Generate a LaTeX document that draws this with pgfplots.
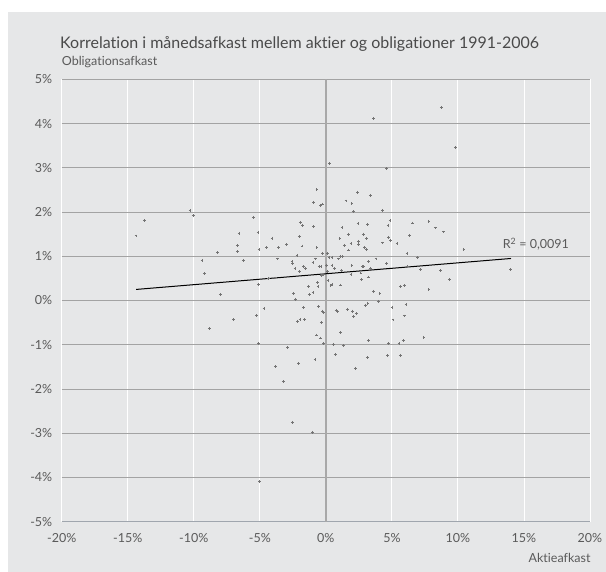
\documentclass[border=0pt]{standalone}
\usepackage{pgfplots}
\pgfplotsset{compat=1.18}
\usepackage{fontspec}
\setmainfont{Lato}[Ligatures=NoCommon]
\definecolor{bg}{HTML}{E6E7E8}
\definecolor{hgrid}{HTML}{A3A3A3}
\definecolor{zline}{HTML}{A8A8A8}
\definecolor{bline}{HTML}{A0A6AE}
\definecolor{txt}{HTML}{5A5A5A}
\definecolor{ttl}{HTML}{4A4A4A}
\definecolor{pts}{HTML}{747474}
\pgfplotstableread{
X Y
-14.37 1.46
-13.74 1.80
-10.28 2.03
-10.03 1.92
-9.37 0.91
-9.20 0.61
-8.82 -0.64
-8.21 1.08
-7.99 0.13
-6.97 -0.43
-6.70 1.25
-6.67 1.10
-6.57 1.52
-6.25 0.91
-5.49 1.88
-5.23 -0.34
-5.13 1.54
-5.06 1.15
-5.08 0.36
-5.08 -0.97
-5.00 -4.10
-4.68 -0.19
-4.50 1.20
-4.32 0.50
-4.07 1.41
-3.82 0.51
-3.79 -1.49
-3.64 0.94
-3.57 1.19
-3.22 -1.83
-2.96 1.26
-2.91 -1.07
-2.56 0.88
-2.51 0.84
-2.54 -2.75
-2.46 0.16
-2.33 0.73
-2.31 0.03
-2.18 1.02
-2.13 -0.47
-2.05 -1.43
-2.01 1.44
-2.01 0.65
-1.95 -0.43
-1.93 1.77
-1.80 1.23
-1.75 1.70
-1.67 0.76
-1.67 -0.16
-1.60 -0.43
-1.52 0.73
-1.32 0.31
-1.25 0.13
-1.02 -2.98
-0.97 0.86
-0.97 0.18
-0.92 2.22
-0.92 1.68
-0.82 -1.34
-0.79 0.94
-0.69 -0.78
-0.67 2.50
-0.67 1.20
-0.61 0.40
-0.59 0.31
-0.54 -0.14
-0.51 0.76
-0.42 -0.85
-0.39 2.15
-0.36 0.76
-0.34 0.56
-0.34 -0.50
-0.26 2.18
-0.26 1.07
-0.23 -0.24
-0.19 0.58
-0.19 -0.27
-0.16 -0.98
0.04 0.80
0.11 1.07
0.14 0.65
0.17 0.45
0.24 0.97
0.29 3.09
0.39 0.33
0.47 0.36
0.47 0.97
0.47 0.80
0.60 -0.99
0.67 0.73
0.72 -1.22
0.77 -0.23
0.87 -0.25
0.98 0.94
1.07 1.40
1.10 0.35
1.13 1.00
1.13 -0.73
1.17 0.68
1.23 1.65
1.28 0.99
1.32 -1.02
1.43 1.25
1.53 2.25
1.63 -0.20
1.70 1.50
1.70 1.14
1.91 1.28
1.91 0.59
1.98 2.19
1.98 0.79
2.01 -0.24
2.08 2.01
2.11 -0.37
2.26 -1.53
2.34 -0.30
2.39 2.45
2.44 1.74
2.46 1.34
2.49 1.27
2.66 0.62
2.69 0.47
2.76 0.77
2.84 1.50
2.87 0.76
2.94 1.19
3.02 -0.11
3.10 1.40
3.10 1.16
3.14 -1.29
3.17 1.71
3.19 -0.06
3.22 0.53
3.22 -0.91
3.25 0.88
3.37 2.38
3.40 0.73
3.62 4.12
3.62 0.21
3.80 0.94
3.97 -0.02
4.10 0.16
4.28 2.04
4.31 1.30
4.61 2.98
4.61 0.84
4.69 -1.25
4.71 1.70
4.76 1.43
4.76 -0.98
4.86 1.80
4.88 1.36
5.01 -0.15
5.09 -0.44
5.39 1.28
5.54 -0.98
5.64 0.32
5.64 -1.24
5.87 -0.91
5.94 0.33
5.94 -0.35
6.07 -0.09
6.15 1.07
6.20 0.76
6.35 1.47
6.58 1.75
6.96 0.97
7.15 0.70
7.43 -0.83
7.81 1.79
7.81 0.25
8.29 1.64
8.70 0.68
8.74 4.36
8.92 1.55
9.35 0.47
9.83 3.45
10.46 1.16
14.00 0.70
}\pts
\begin{document}
\begin{tikzpicture}[x=1pt,y=1pt]
\fill[white] (-61.7,-50.3) rectangle (544.3,521.7);
\fill[bg] (-53.2,-50.3) rectangle (544.3,509.3);
\begin{axis}[at={(0,0)}, anchor=south west, scale only axis,
  width=528.3pt, height=442.4pt,
  xmin=-20, xmax=20, ymin=-5, ymax=5,
  axis line style={draw=none}, major tick length=0pt,
  xtick={-20,-15,...,20},
  xticklabels={-20\%,-15\%,-10\%,-5\%,0\%,5\%,10\%,15\%,20\%},
  ytick={-5,-4,...,5},
  yticklabels={-5\%,-4\%,-3\%,-2\%,-1\%,0\%,1\%,2\%,3\%,4\%,5\%},
  xmajorgrids, ymajorgrids,
  x grid style={white, line width=0.9pt},
  y grid style={hgrid, line width=0.9pt},
  tick label style={font=\fontsize{12.5}{14}\selectfont, text=txt},
  xticklabel style={anchor=center, yshift=-16.5pt},
  yticklabel style={anchor=east, xshift=-6pt},
  clip=false]
\addplot[bline, line width=1.2pt] coordinates {(-20,-5) (20,-5)};
\addplot[zline, line width=2.2pt] coordinates {(0,-5) (0,5)};
\addplot[only marks, mark=+, mark size=1.4pt, pts, line width=1pt] table[x=X,y=Y] {\pts};
\addplot[black, line width=1pt] coordinates {(-14.37,0.25) (14.02,0.95)};
\node[font=\fontsize{12.5}{14}\selectfont, text=txt] at (axis cs:15.9,1.28) {R\textsuperscript{2} = 0,0091};
\end{axis}
\node[anchor=base west, inner sep=0, font=\fontsize{16}{19}\selectfont, text=ttl] at (-1.7,472.7) {Korrelation i månedsafkast mellem aktier og obligationer 1991-2006};
\node[anchor=base west, inner sep=0, font=\fontsize{12.5}{14}\selectfont, text=txt] at (0,455.7) {Obligationsafkast};
\node[anchor=base east, inner sep=0, font=\fontsize{12.5}{14}\selectfont, text=txt] at (529,-41.3) {Aktieafkast};
\end{tikzpicture}
\end{document}
